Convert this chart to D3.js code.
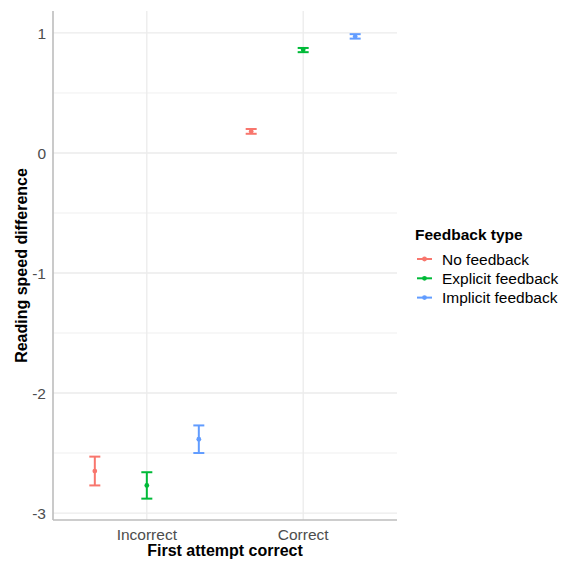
<!DOCTYPE html>
<html><head><meta charset="utf-8">
<script src="https://cdn.jsdelivr.net/npm/d3@7"></script>
<style>body{margin:0;background:#fff}svg{font-family:"Liberation Sans",Arial,sans-serif}</style>
</head><body>
<svg id="c" width="564" height="561"></svg>
<script>
const categories = ["Incorrect", "Correct"];
const seriesNames = ["No feedback", "Explicit feedback", "Implicit feedback"];
const colors = ["#F8766D", "#00BA38", "#619CFF"];
// mean, lower, upper per category (Incorrect, Correct)
const noFeedbackMean = [-2.65, 0.18];
const noFeedbackLow = [-2.77, 0.16];
const noFeedbackHigh = [-2.53, 0.20];
const explicitMean = [-2.77, 0.86];
const explicitLow = [-2.88, 0.84];
const explicitHigh = [-2.66, 0.875];
const implicitMean = [-2.385, 0.97];
const implicitLow = [-2.50, 0.953];
const implicitHigh = [-2.27, 0.99];
const yTicks = [-3, -2, -1, 0, 1];
const yMinor = [-2.5, -1.5, -0.5, 0.5];

const series = [
  {name: seriesNames[0], mean: noFeedbackMean, lo: noFeedbackLow, hi: noFeedbackHigh},
  {name: seriesNames[1], mean: explicitMean, lo: explicitLow, hi: explicitHigh},
  {name: seriesNames[2], mean: implicitMean, lo: implicitLow, hi: implicitHigh}
];

const svg = d3.select("#c");
const L = 53, R = 397, T = 11, B = 520;
const y = d3.scaleLinear().domain([-3.058, 1.183]).range([B, T]);
const x = d3.scalePoint().domain(categories).range([L, R]).padding(0.6);
const dodge = d3.scaleBand().domain(seriesNames).range([-52 * 1.5, 52 * 1.5]);
const color = d3.scaleOrdinal().domain(seriesNames).range(colors);

const g = svg.append("g");
// grid
g.selectAll(".minor").data(yMinor).join("line")
  .attr("x1", L).attr("x2", R).attr("y1", d => y(d)).attr("y2", d => y(d))
  .attr("stroke", "#ebebeb").attr("stroke-width", 0.8);
g.selectAll(".major").data(yTicks).join("line")
  .attr("x1", L).attr("x2", R).attr("y1", d => y(d)).attr("y2", d => y(d))
  .attr("stroke", "#ebebeb").attr("stroke-width", 1.3);
g.selectAll(".vmaj").data(categories).join("line")
  .attr("x1", d => x(d)).attr("x2", d => x(d)).attr("y1", T).attr("y2", B)
  .attr("stroke", "#ebebeb").attr("stroke-width", 1.3);

// axes lines
svg.append("line").attr("x1", L).attr("x2", L).attr("y1", T).attr("y2", B)
  .attr("stroke", "#bdbdbd").attr("stroke-width", 1.6);
svg.append("line").attr("x1", L).attr("x2", R).attr("y1", B).attr("y2", B)
  .attr("stroke", "#bdbdbd").attr("stroke-width", 1.6);

// y ticks
svg.selectAll(".yt").data(yTicks).join("text")
  .attr("x", L - 7).attr("y", d => y(d)).attr("dy", "0.36em")
  .attr("text-anchor", "end").attr("font-size", 15.5).attr("fill", "#4d4d4d")
  .text(d => d);
// x ticks
svg.selectAll(".xt").data(categories).join("text")
  .attr("x", d => x(d)).attr("y", B + 20)
  .attr("text-anchor", "middle").attr("font-size", 15.5).attr("fill", "#4d4d4d")
  .text(d => d);

// titles
svg.append("text").attr("x", (L + R) / 2).attr("y", 556).attr("text-anchor", "middle")
  .attr("font-size", 16).attr("font-weight", "bold").attr("fill", "#000").text("First attempt correct");
svg.append("text").attr("transform", `translate(27,${(T + B) / 2}) rotate(-90)`).attr("text-anchor", "middle")
  .attr("font-size", 16).attr("font-weight", "bold").attr("fill", "#000").text("Reading speed difference");

// data
const bw = dodge.bandwidth();
series.forEach(s => {
  const col = color(s.name);
  const gs = svg.append("g");
  categories.forEach((c, i) => {
    const cx = x(c) + dodge(s.name) + bw / 2;
    gs.append("line").attr("x1", cx).attr("x2", cx).attr("y1", y(s.lo[i])).attr("y2", y(s.hi[i]))
      .attr("stroke", col).attr("stroke-width", 2);
    [s.lo[i], s.hi[i]].forEach(v => {
      gs.append("line").attr("x1", cx - 5.5).attr("x2", cx + 5.5).attr("y1", y(v)).attr("y2", y(v))
        .attr("stroke", col).attr("stroke-width", 2);
    });
    gs.append("circle").attr("cx", cx).attr("cy", y(s.mean[i])).attr("r", 2.4).attr("fill", col);
  });
});

// legend
const lg = svg.append("g");
lg.append("text").attr("x", 415).attr("y", 240).attr("font-size", 15.5).attr("font-weight", "bold")
  .attr("fill", "#000").text("Feedback type");
seriesNames.forEach((n, i) => {
  const yy = 259 + i * 19.3;
  lg.append("line").attr("x1", 417).attr("x2", 432).attr("y1", yy).attr("y2", yy)
    .attr("stroke", color(n)).attr("stroke-width", 2);
  lg.append("circle").attr("cx", 424.5).attr("cy", yy).attr("r", 2.4).attr("fill", color(n));
  lg.append("text").attr("x", 442).attr("y", yy).attr("dy", "0.36em").attr("font-size", 15.5)
    .attr("fill", "#000").text(n);
});
</script>
</body></html>
